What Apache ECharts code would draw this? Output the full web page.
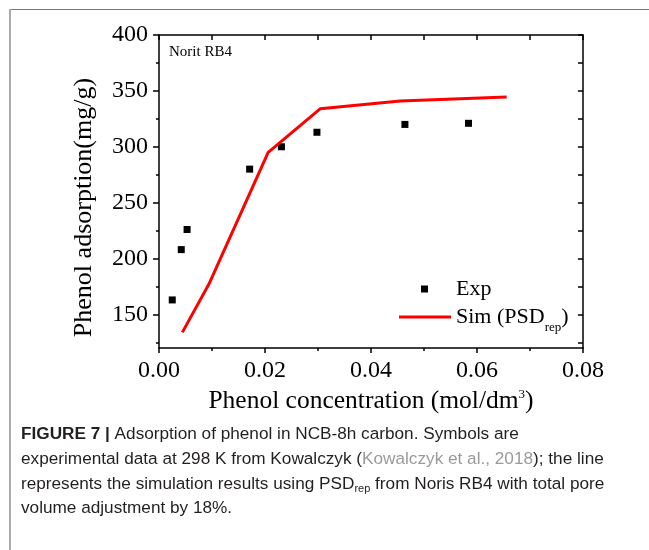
<!DOCTYPE html>
<html>
<head>
<meta charset="utf-8">
<script src="https://cdn.jsdelivr.net/npm/echarts@6/dist/echarts.min.js"></script>
<style>
html,body{margin:0;padding:0;background:#fff;}
#chart{width:649px;height:550px;}
</style>
</head>
<body>
<div id="chart"></div>
<script>
// Experimental data (Exp)
var expX = [0.0025, 0.0042, 0.0053, 0.0171, 0.0231, 0.0298, 0.0464, 0.0584];
var expY = [163, 208, 226, 280, 300, 313, 320, 321];
// Simulation (Sim PSD_rep)
var simX = [0.0044, 0.0094, 0.0206, 0.0304, 0.0455, 0.0656];
var simY = [134, 177, 295, 334, 341, 344.5];
// Axis ticks
var yMajorTicks = [150, 200, 250, 300, 350, 400];
var yMinorTicks = [125, 175, 225, 275, 325, 375];
var yRightTicks = [125, 150, 175, 200, 225, 250, 275, 300, 325, 350, 375, 400];

var serif = "'Liberation Serif','Times New Roman',serif";
var sans = "'Liberation Sans',Arial,sans-serif";
var capFont = 17.2;

var expData = expX.map(function (x, i) { return [x, expY[i]]; });
var simData = simX.map(function (x, i) { return [x, simY[i]]; });

var chart = echarts.init(document.getElementById('chart'), null, {renderer: 'canvas'});
var axisLine = {show: true, onZero: false, lineStyle: {color: '#000', width: 1.5}};

var option = {
  animation: false,
  backgroundColor: '#fff',
  grid: {left: 159, right: 66, top: 35, bottom: 202, containLabel: false},
  xAxis: [
    {
      type: 'value', position: 'bottom', min: 0, max: 0.08, interval: 0.02,
      axisLine: axisLine,
      axisTick: {show: true, inside: false, length: 5, lineStyle: {color: '#000', width: 1.5}},
      minorTick: {show: true, splitNumber: 2, length: 3, lineStyle: {color: '#000', width: 1.5}},
      splitLine: {show: false},
      axisLabel: {margin: 11, fontFamily: serif, fontSize: 24, color: '#000',
        formatter: function (v) { return v.toFixed(2); }},
      name: 'Phenol concentration (mol/dm{sup|3})',
      nameLocation: 'middle', nameGap: 38,
      nameTextStyle: {fontFamily: serif, fontSize: 25.5, color: '#000',
        rich: {sup: {fontFamily: serif, fontSize: 13, color: '#000', padding: [0, 0, 14, 0]}}}
    },
    {
      type: 'value', position: 'top', min: 0, max: 0.08, interval: 0.01,
      axisLine: axisLine,
      axisTick: {show: true, inside: true, length: 5, lineStyle: {color: '#000', width: 1.5}},
      axisLabel: {show: false}, splitLine: {show: false}
    }
  ],
  yAxis: [
    {
      type: 'value', position: 'left', min: 120, max: 400,
      axisLine: axisLine,
      axisTick: {show: true, inside: false, length: 6, customValues: yMajorTicks,
        lineStyle: {color: '#000', width: 1.5}},
      axisLabel: {margin: 11, fontFamily: serif, fontSize: 24, color: '#000', customValues: yMajorTicks},
      splitLine: {show: false},
      name: 'Phenol adsorption(mg/g)', nameLocation: 'middle', nameGap: 62,
      nameTextStyle: {fontFamily: serif, fontSize: 26, color: '#000', padding: [0, 32, 0, 0]}
    },
    {
      type: 'value', position: 'right', min: 120, max: 400,
      axisLine: axisLine,
      axisTick: {show: true, inside: true, length: 5, customValues: yRightTicks,
        lineStyle: {color: '#000', width: 1.5}},
      axisLabel: {show: false}, splitLine: {show: false}
    },
    {
      type: 'value', position: 'left', min: 120, max: 400, offset: 0,
      axisLine: {show: false},
      axisTick: {show: true, inside: false, length: 3, customValues: yMinorTicks,
        lineStyle: {color: '#000', width: 1.5}},
      axisLabel: {show: false}, splitLine: {show: false}
    }
  ],
  legend: [
    {
      data: [{name: 'Exp', icon: 'rect'}],
      left: 421, top: 278, padding: 0, itemWidth: 7, itemHeight: 7,
      textStyle: {fontFamily: serif, fontSize: 22, color: '#000', padding: [0, 0, 0, 23]}
    },
    {
      data: [{name: 'Sim', icon: 'rect'}],
      left: 399, top: 306, padding: 0, itemWidth: 52, itemHeight: 3,
      formatter: function () { return 'Sim (PSD{sub|rep})'; },
      textStyle: {fontFamily: serif, fontSize: 22, color: '#000',
        rich: {sub: {fontFamily: serif, fontSize: 13, color: '#000', padding: [22, 0, 0, 0]}}}
    }
  ],
  series: [
    {
      name: 'Exp', type: 'scatter', xAxisIndex: 0, yAxisIndex: 0,
      symbol: 'rect', symbolSize: 7, itemStyle: {color: '#000', opacity: 1},
      data: expData
    },
    {
      name: 'Sim', type: 'line', xAxisIndex: 0, yAxisIndex: 0,
      symbol: 'none', showSymbol: false,
      lineStyle: {color: '#ff0000', width: 3}, itemStyle: {color: '#ff0000'},
      data: simData
    }
  ],
  graphic: [
    {type: 'line', shape: {x1: 10, y1: 9.5, x2: 649, y2: 9.5}, style: {stroke: '#777', lineWidth: 1.2}, silent: true},
    {type: 'line', shape: {x1: 10, y1: 9, x2: 10, y2: 550}, style: {stroke: '#aaa', lineWidth: 2}, silent: true},
    {type: 'text', left: 169, top: 45, style: {text: 'Norit RB4', font: "15px " + serif, fill: '#000'}},
    {type: 'text', left: 21, top: 426, style: {
      text: '{b|FIGURE 7 |} Adsorption of phenol in NCB-8h carbon. Symbols are',
      font: capFont + "px " + sans, fill: '#231f20',
      rich: {b: {fontWeight: 'bold', fontFamily: sans, fontSize: capFont, fill: '#231f20'}}}},
    {type: 'text', left: 21, top: 451, style: {
      text: 'experimental data at 298 K from Kowalczyk ({g|Kowalczyk et al., 2018}); the line',
      font: capFont + "px " + sans, fill: '#231f20',
      rich: {g: {fontFamily: sans, fontSize: capFont, fill: '#9a9a9a'}}}},
    {type: 'text', left: 21, top: 476, style: {
      text: 'represents the simulation results using PSD{sub|rep} from Noris RB4 with total pore',
      font: capFont + "px " + sans, fill: '#231f20',
      rich: {sub: {fontFamily: sans, fontSize: 11, fill: '#231f20', padding: [9, 0, 0, 0]}}}},
    {type: 'text', left: 21, top: 500, style: {
      text: 'volume adjustment by 18%.',
      font: capFont + "px " + sans, fill: '#231f20'}}
  ]
};
chart.setOption(option);
</script>
</body>
</html>
